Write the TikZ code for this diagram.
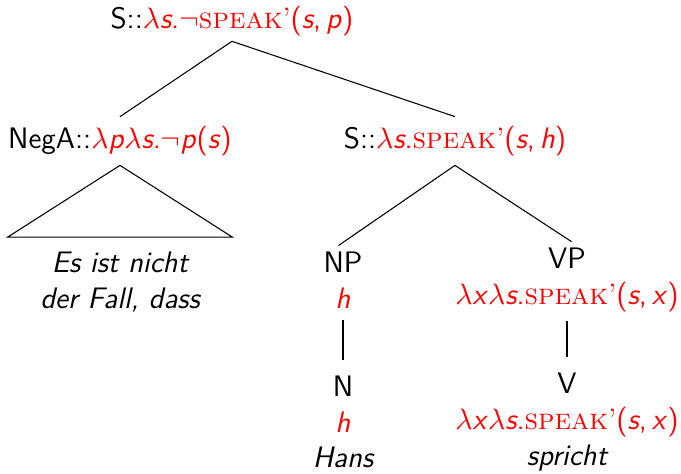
\documentclass[tikz,border=0pt]{standalone}
\usetikzlibrary{positioning}

\newcommand{\sem}[1]{\textcolor{red}{#1}}
\newcommand{\mv}[1]{\textit{#1}}
\newcommand{\speak}{\textrm{\textsc{speak}'}}

\begin{document}
\begin{tikzpicture}[x=0.371pt,y=-0.371pt,
  every node/.style={font=\sffamily\fontsize{11}{13.2}\selectfont, align=center},
  branch/.style={line width=0.4pt}]
\useasboundingbox (0,0) rectangle (681,473);
\node (root) at (232,21) {S::\sem{$\lambda$\mv{s}.$\neg$\speak(\mv{s},\,\mv{p})}};
\node (nega) at (120,141) {NegA::\sem{$\lambda$\mv{p}$\lambda$\mv{s}.$\neg$\mv{p}(\mv{s})}};
\node (s2) at (455,141) {S::\sem{$\lambda$\mv{s}.\speak(\mv{s},\,\mv{h})}};
\node (fall) at (120,282) {\itshape Es ist nicht\\\itshape der Fall, dass};
\node (np) at (343,280) {NP\\\sem{\mv{h}}};
\node (vp) at (567,280) {VP\\\sem{$\lambda$\mv{x}$\lambda$\mv{s}.\speak(\mv{s},\,\mv{x})}};
\node (n) at (343,422) {N\\\sem{\mv{h}}\\\itshape Hans};
\node (v) at (567,422) {V\\\sem{$\lambda$\mv{x}$\lambda$\mv{s}.\speak(\mv{s},\,\mv{x})}\\\itshape spricht};
\coordinate (top) at ([yshift=1.5pt]root.south);
\draw[branch] (nega.north) -- (top) -- (s2.north);
\draw[branch] (nega.south) -- ([shift={(3.3pt,2pt)}]nega.west |- fall.north)
  -- ([shift={(-3.3pt,2pt)}]nega.east |- fall.north) -- cycle;
\draw[branch,shorten <=-2pt,shorten >=-2pt] (np.north) -- (s2.south) -- (vp.north);
\draw[branch,shorten <=1pt,shorten >=2.5pt] (np.south) -- (n.north);
\draw[branch,shorten >=2.5pt] (vp.south -| v.north) -- (v.north);
\end{tikzpicture}
\end{document}
